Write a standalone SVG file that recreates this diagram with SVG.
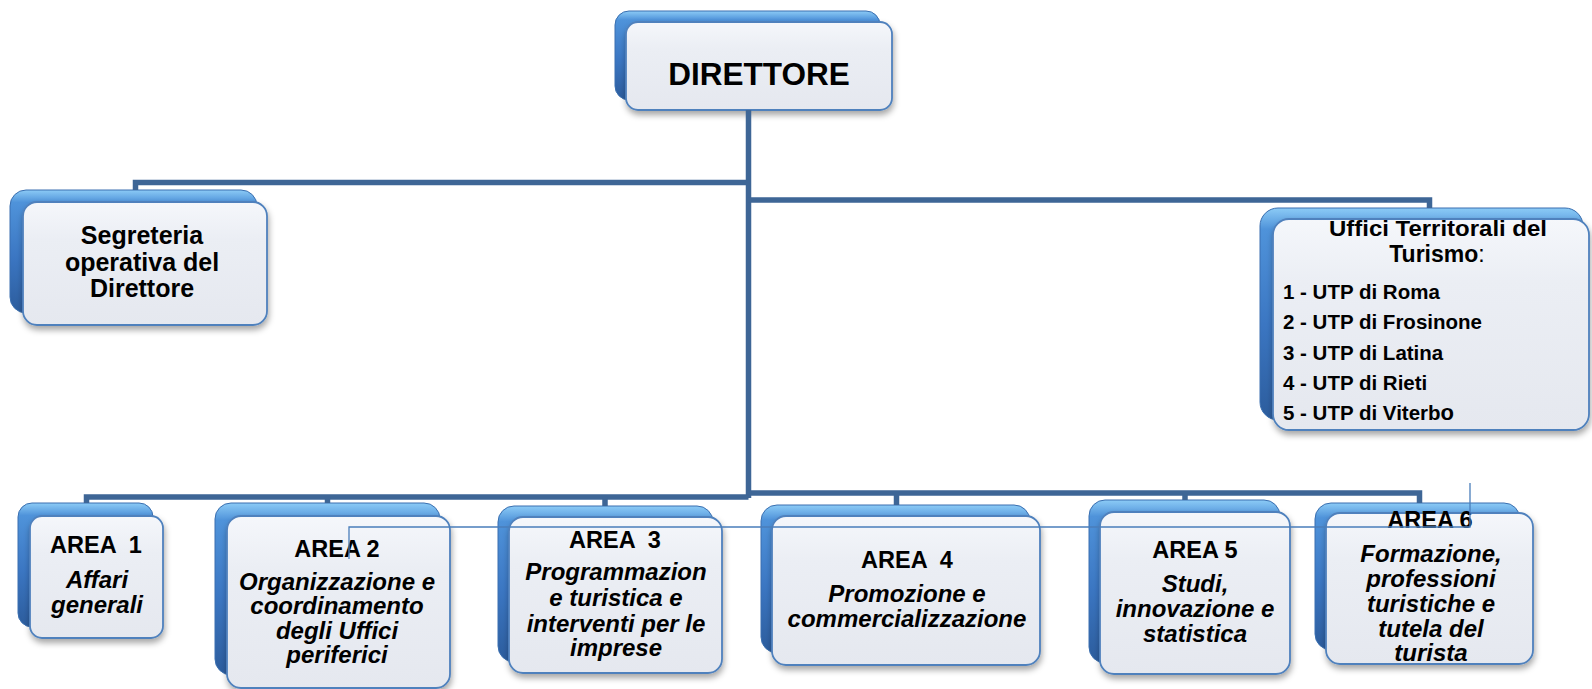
<svg xmlns="http://www.w3.org/2000/svg" width="1592" height="689" viewBox="0 0 1592 689">
<defs>
<linearGradient id="gBack" x1="0" y1="0" x2="0" y2="1">
<stop offset="0" stop-color="#8CCBF6"/>
<stop offset="0.1" stop-color="#4F93DA"/>
<stop offset="0.55" stop-color="#3B76C2"/>
<stop offset="1" stop-color="#2C5C9C"/>
</linearGradient>
<linearGradient id="gFront" x1="0" y1="0" x2="0" y2="1">
<stop offset="0" stop-color="#F5F7FB"/>
<stop offset="0.3" stop-color="#EBEEF4"/>
<stop offset="1" stop-color="#E5E8EF"/>
</linearGradient>
<filter id="sh" x="-10%" y="-10%" width="125%" height="130%">
<feDropShadow dx="1" dy="4" stdDeviation="3" flood-color="#000" flood-opacity="0.35"/>
</filter>
<style>
.back{fill:url(#gBack);stroke:#3A6FB0;stroke-width:1}
.front{fill:url(#gFront);stroke:#4F81BD;stroke-width:1.8;filter:url(#sh)}
.t{font-family:"Liberation Sans",Arial,sans-serif;font-weight:bold;fill:#000;text-anchor:middle}
.h{font-size:23.5px}
.i{font-style:italic;font-size:24px}
.bus{fill:none;stroke:#3E6696;stroke-width:5.5;stroke-linejoin:miter}
.thin{fill:none;stroke:#4A7EBB;stroke-width:1.3}
</style>
</defs>
<rect width="1592" height="689" fill="#FFFFFF"/>

<g id="direttore">
<rect class="back" x="615" y="11" width="265" height="89" rx="14"/>
<rect class="front" x="626" y="22" width="266" height="88" rx="12"/>
<text class="t" x="759" y="85" font-size="31.5">DIRETTORE</text>
</g>

<g id="segreteria">
<rect class="back" x="10" y="190" width="247" height="123" rx="16"/>
<rect class="front" x="23" y="202" width="244" height="123" rx="14"/>
<text class="t" x="142" font-size="25"><tspan x="142" y="244">Segreteria</tspan><tspan x="142" y="270.5">operativa del</tspan><tspan x="142" y="297">Direttore</tspan></text>
</g>

<g id="uffici">
<rect class="back" x="1260" y="208" width="323" height="212" rx="18"/>
<rect class="front" x="1273" y="219" width="316" height="211" rx="16"/>
<text class="t" x="1438" y="236" font-size="22.5" textLength="218" lengthAdjust="spacingAndGlyphs">Uffici Territorali del</text>
<text class="t" x="1437" y="262" font-size="23">Turismo<tspan font-weight="normal">:</tspan></text>
<g class="t" style="text-anchor:start" font-size="20.5">
<text x="1283" y="299">1 - UTP di Roma</text>
<text x="1283" y="329">2 - UTP di Frosinone</text>
<text x="1283" y="360">3 - UTP di Latina</text>
<text x="1283" y="390">4 - UTP di Rieti</text>
<text x="1283" y="420">5 - UTP di Viterb<tspan font-size="22">o</tspan></text>
</g>
</g>

<g id="area1">
<rect class="back" x="18" y="503" width="135" height="124" rx="14"/>
<rect class="front" x="30" y="516" width="133" height="122" rx="12"/>
<text class="t h" x="96" y="553" xml:space="preserve">AREA  1</text>
<text class="t i"><tspan x="97" y="588">Affari</tspan><tspan x="97" y="613">generali</tspan></text>
</g>

<g id="area2">
<rect class="back" x="215" y="503" width="225" height="172" rx="16"/>
<rect class="front" x="227" y="516" width="223" height="172" rx="14"/>
<text class="t h" x="337" y="557">AREA 2</text>
<text class="t i"><tspan x="337" y="590">Organizzazione e</tspan><tspan x="337" y="614">coordinamento</tspan><tspan x="337" y="639">degli Uffici</tspan><tspan x="337" y="663">periferici</tspan></text>
</g>

<g id="area3">
<rect class="back" x="498" y="506" width="215" height="156" rx="16"/>
<rect class="front" x="509" y="517" width="213" height="156" rx="14"/>
<text class="t h" x="615" y="548" xml:space="preserve">AREA  3</text>
<text class="t i"><tspan x="616" y="580">Programmazion</tspan><tspan x="616" y="606">e turistica e</tspan><tspan x="616" y="632">interventi per le</tspan><tspan x="616" y="656">imprese</tspan></text>
</g>

<g id="area4">
<rect class="back" x="761" y="505" width="269" height="148" rx="16"/>
<rect class="front" x="772" y="516" width="268" height="149" rx="14"/>
<text class="t h" x="907" y="568" xml:space="preserve">AREA  4</text>
<text class="t i"><tspan x="907" y="602">Promozione e</tspan><tspan x="907" y="627">commercializzazione</tspan></text>
</g>

<g id="area5">
<rect class="back" x="1089" y="500" width="191" height="163" rx="16"/>
<rect class="front" x="1100" y="512" width="190" height="162" rx="14"/>
<text class="t h" x="1195" y="558">AREA 5</text>
<text class="t i"><tspan x="1195" y="592">Studi,</tspan><tspan x="1195" y="617">innovazione e</tspan><tspan x="1195" y="642">statistica</tspan></text>
</g>

<g id="area6">
<rect class="back" x="1315" y="503" width="205" height="147" rx="16"/>
<rect class="front" x="1326" y="513" width="207" height="151" rx="14"/>
<text class="t h" x="1430" y="528">AREA 6</text>
<text class="t i"><tspan x="1431" y="562">Formazione,</tspan><tspan x="1431" y="587">professioni</tspan><tspan x="1431" y="612">turistiche e</tspan><tspan x="1431" y="637">tutela del</tspan><tspan x="1431" y="661">turista</tspan></text>
</g>

<g id="connectors">
<path class="bus" d="M748.5,110 V498"/>
<path class="bus" d="M748.5,182.5 H135.5 V190"/>
<path class="bus" d="M748.5,200 H1429.5 V208"/>
<path class="bus" d="M748.5,497 H86.5 V503"/>
<path class="bus" d="M327.5,497 V503"/>
<path class="bus" d="M605,497 V506"/>
<path class="bus" d="M748.5,493 H1419.5 V503"/>
<path class="bus" d="M896.5,493 V505"/>
<path class="bus" d="M1185,493 V500"/>
<path class="thin" d="M349,559 V527 H1470 V483"/>
</g>
</svg>
